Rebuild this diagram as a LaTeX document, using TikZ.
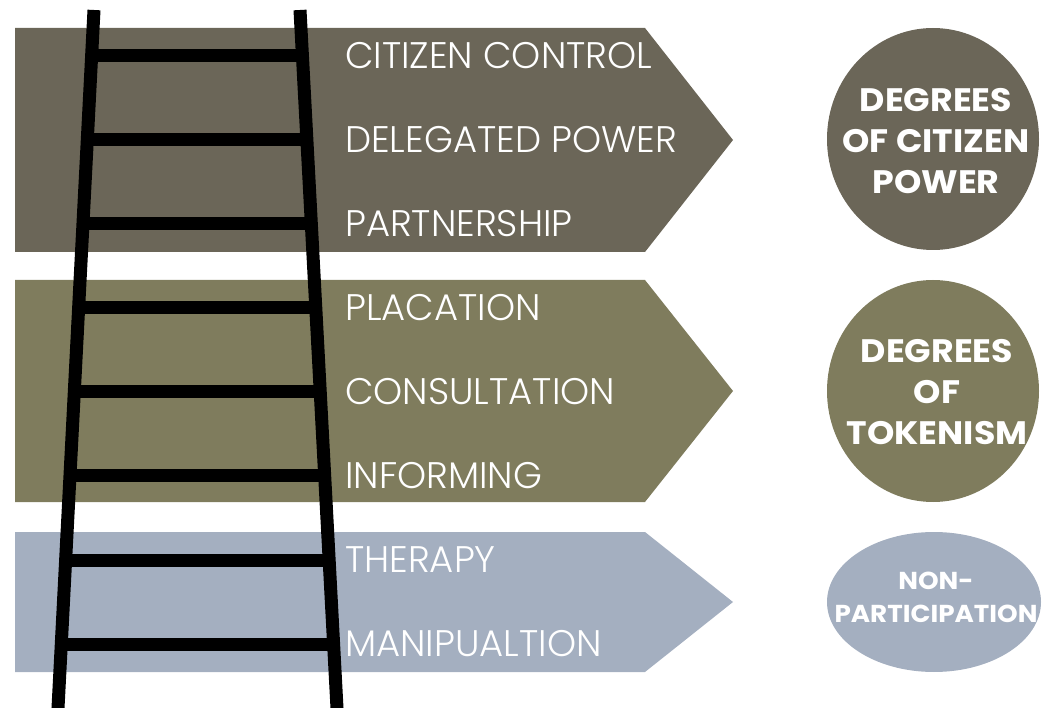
\documentclass[tikz,border=0pt]{standalone}
\usepackage{fontspec}
\setmainfont{Poppins}
\newfontfamily\rungfont{Poppins Light}
\newfontfamily\degreefont[FakeStretch=1.07]{Poppins}

\definecolor{powerbrown}{RGB}{107,102,88}
\definecolor{tokenolive}{RGB}{127,124,93}
\definecolor{nonblue}{RGB}{164,175,192}

\tikzset{
  rail/.style={line width=13pt},
  rungtext/.style={anchor=west, inner sep=0pt, text=white,
    font=\rungfont\fontsize{37}{37}\selectfont},
  degreetext/.style={align=center, inner sep=0pt, text=white,
    font=\degreefont\bfseries\fontsize{32.5}{41}\selectfont},
}

\begin{document}
\begin{tikzpicture}[x=1pt,y=-1pt]
\useasboundingbox (0,0) rectangle (1042,708);

% The three bands
\foreach \ytop/\ybot/\col in {28/252/powerbrown, 280/502/tokenolive, 532/672/nonblue}{
  \pgfmathsetmacro{\ymid}{(\ytop+\ybot)/2}
  \fill[\col] (15,\ytop) -- (645,\ytop) -- (733,\ymid) -- (645,\ybot) -- (15,\ybot) -- cycle;
}

% The ladder
\draw[rail] (94,10) -- (57.8,712);
\draw[rail] (300,10) -- (337.2,712);
\foreach \k in {0,...,7}{
  \pgfmathsetmacro{\yrung}{56+84*\k}
  \pgfmathsetmacro{\xleft}{94-(36.2/702)*(\yrung-10)}
  \pgfmathsetmacro{\xright}{300+(37.2/702)*(\yrung-10)}
  \draw[rail] (\xleft,\yrung) -- (\xright,\yrung);
}

% The rungs' names
\foreach \name/\txt [count=\k from 0] in {control/CITIZEN CONTROL, delegated/DELEGATED POWER,
    partnership/PARTNERSHIP, placation/PLACATION, consultation/CONSULTATION,
    informing/INFORMING, therapy/THERAPY, manipulation/MANIPUALTION}{
  \node[rungtext] (\name) at (345,56+84*\k) {\txt};
}

% The degrees
\fill[powerbrown] (933,139) ellipse (106 and 111);
\node[degreetext] (citizenpower) at (936,141) {DEGREES\\OF CITIZEN\\POWER};

\fill[tokenolive] (933,391) ellipse (106 and 111);
\node[degreetext] (tokenism) at (937,392) {DEGREES\\OF\\TOKENISM};

\fill[nonblue] (934,602) ellipse (107 and 70);
\node[degreetext, font=\degreefont\bfseries\fontsize{24.5}{33}\selectfont] (nonpart) at (936,597) {NON-\\PARTICIPATION};

\end{tikzpicture}
\end{document}
